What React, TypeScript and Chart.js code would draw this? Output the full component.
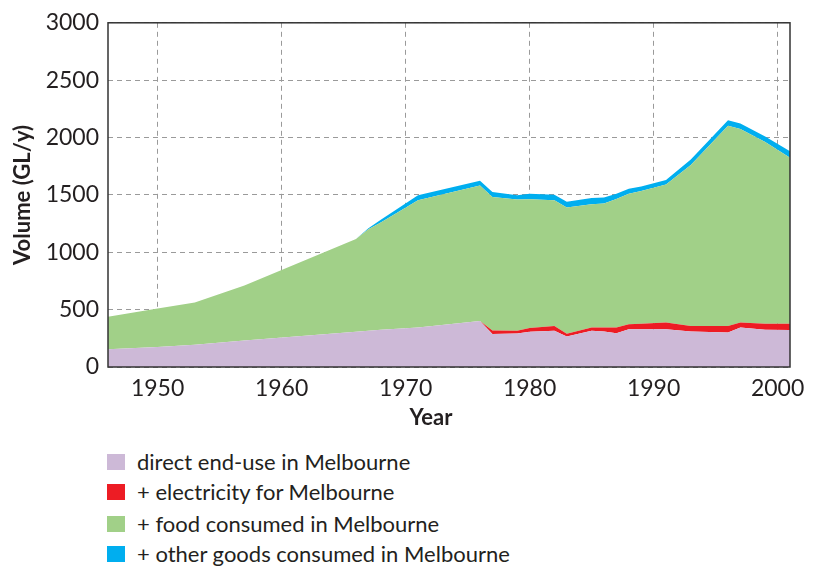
import React, { useEffect, useRef } from "react";
import { Chart, registerables } from "chart.js";

Chart.register(...registerables);

const years = [1946, 1950, 1953, 1957, 1966, 1967, 1968, 1971, 1976, 1977, 1979, 1980, 1982, 1983, 1985, 1986, 1987, 1988, 1989, 1991, 1993, 1996, 1997, 1999, 2001];
const directEndUse = [154, 175, 195, 232, 307, 315, 324, 344, 401, 288, 293, 307, 316, 265, 316, 310, 295, 330, 330, 330, 310, 301, 344, 324, 322];
const electricity = [0, 0, 0, 0, 0, 0, 0, 0, 0, 30, 23, 32, 42, 25, 28, 34, 50, 43, 48, 57, 48, 57, 43, 54, 56];
const food = [284, 335, 368, 479, 808, 885, 936, 1110, 1181, 1164, 1143, 1123, 1096, 1101, 1075, 1081, 1120, 1138, 1156, 1203, 1403, 1744, 1687, 1582, 1446];
const otherGoods = [0, 0, 0, 0, 0, 10, 23, 42, 42, 43, 37, 49, 48, 49, 55, 52, 45, 42, 39, 40, 48, 49, 48, 48, 56];

const seriesLabels = [
  "direct end-use in Melbourne",
  "+ electricity for Melbourne",
  "+ food consumed in Melbourne",
  "+ other goods consumed in Melbourne",
];
const seriesColors = ["#CDB9D7", "#ED1C24", "#A1D088", "#00AEEF"];
const seriesValues = [directEndUse, electricity, food, otherGoods];

const FONT = "Lato, 'Open Sans', sans-serif";
const TEXT = "#231F20";

export default function App() {
  const ref = useRef<HTMLCanvasElement | null>(null);

  useEffect(() => {
    if (!ref.current) return;
    const framePlugin = {
      id: "frame",
      afterDraw(chart: any) {
        const { ctx, chartArea } = chart;
        ctx.save();
        ctx.strokeStyle = "#333333";
        ctx.lineWidth = 1.5;
        ctx.strokeRect(chartArea.left, chartArea.top, chartArea.right - chartArea.left, chartArea.bottom - chartArea.top);
        ctx.fillStyle = TEXT;
        ctx.font = "bold 22px " + FONT;
        ctx.textAlign = "center";
        ctx.textBaseline = "middle";
        ctx.fillText("Year", (chartArea.left + chartArea.right) / 2 - 18, 418);
        ctx.restore();
      },
    };
    const chart = new Chart(ref.current, {
      type: "line",
      data: {
        datasets: seriesValues.map((vals, i) => ({
          label: seriesLabels[i],
          data: years.map((y, j) => ({ x: y, y: vals[j] })),
          backgroundColor: seriesColors[i],
          borderColor: seriesColors[i],
          borderWidth: 0,
          pointRadius: 0,
          fill: i === 0 ? "origin" : "-1",
          tension: 0,
        })),
      },
      options: {
        animation: false,
        responsive: false,
        maintainAspectRatio: false,
        layout: { padding: { left: 8, right: 25, top: 15, bottom: 0 } },
        plugins: { legend: { display: false }, tooltip: { enabled: false } },
        scales: {
          x: {
            type: "linear",
            min: 1946,
            max: 2001,
            border: { display: false, dash: [5, 4] },
            grid: { color: "#9a9a9a", lineWidth: 1, drawTicks: false },
            ticks: {
              stepSize: 10,
              includeBounds: false,
              color: TEXT,
              font: { family: FONT, size: 23 },
              padding: 8,
              maxRotation: 0,
              callback: (v: any) => String(v),
            },
            afterFit: (scale: any) => {
              scale.height = 73;
            },
          },
          y: {
            stacked: true,
            min: 0,
            max: 3000,
            border: { display: false, dash: [5, 4] },
            grid: { color: "#9a9a9a", lineWidth: 1, drawTicks: false },
            ticks: {
              stepSize: 500,
              color: TEXT,
              font: { family: FONT, size: 23 },
              padding: 9,
              callback: (v: any) => String(v),
            },
            title: {
              display: true,
              text: "Volume (GL/y)",
              color: TEXT,
              font: { family: FONT, size: 22, weight: "bold" },
              padding: { top: 2, bottom: 0 },
            },
            afterFit: (scale: any) => {
              scale.width = 100;
            },
          },
        },
      },
      plugins: [framePlugin],
    } as any);
    return () => chart.destroy();
  }, []);

  const legendTops = [454, 484, 516, 546];

  return (
    <div style={{ position: "fixed", left: 0, top: 0, width: 815, height: 567, background: "#fff" }}>
      <canvas ref={ref} width={815} height={440} style={{ position: "absolute", left: 0, top: 0, width: 815, height: 440 }} />
      {seriesLabels.map((lab, i) => (
        <div key={lab} style={{ position: "absolute", left: 107, top: legendTops[i], height: 16, display: "flex", alignItems: "center" }}>
          <div style={{ width: 18, height: 16, background: seriesColors[i], flex: "none" }} />
          <span style={{ marginLeft: 12, fontFamily: FONT, fontSize: 22, color: TEXT, whiteSpace: "nowrap", lineHeight: "16px" }}>{lab}</span>
        </div>
      ))}
    </div>
  );
}
